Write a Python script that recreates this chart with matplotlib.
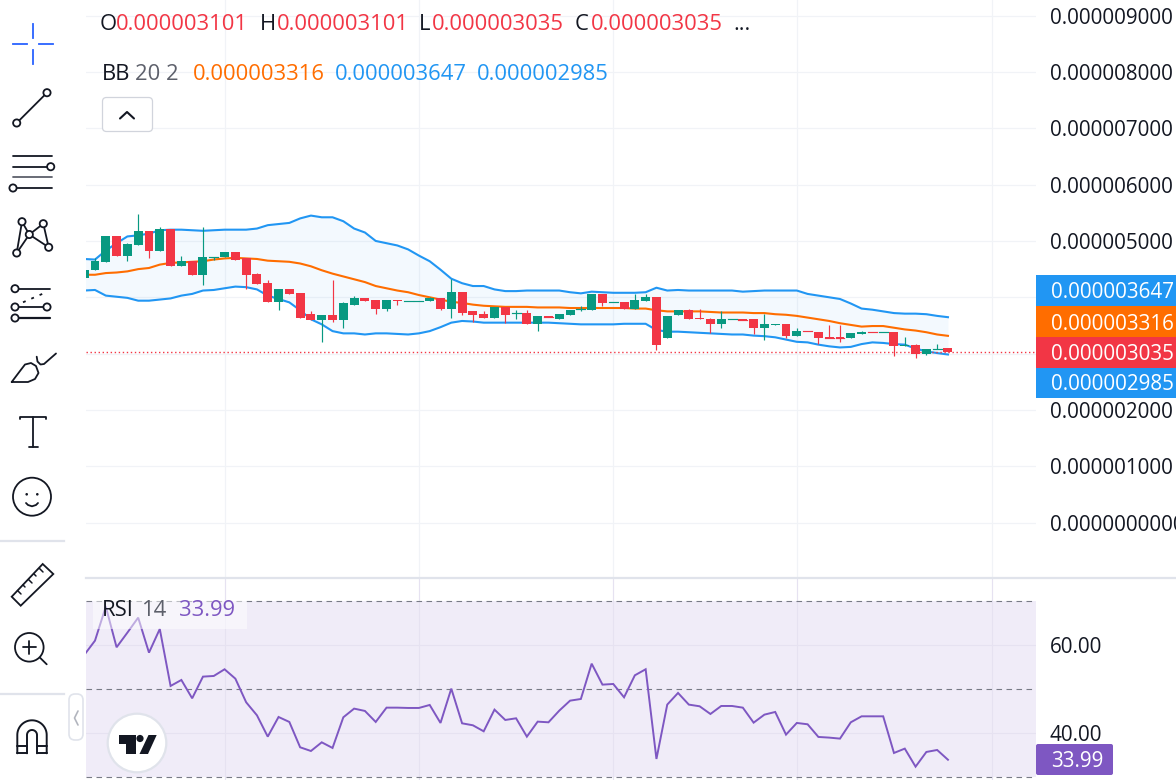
import numpy as np
import matplotlib
matplotlib.use("Agg")
import matplotlib.pyplot as plt
from matplotlib.patches import Circle, FancyBboxPatch, Polygon, Rectangle

plt.rcParams['font.family'] = ['Open Sans', 'DejaVu Sans']

# prices are in millionths (1.0 = 0.000001)
opens = [4.35, 4.48, 4.62, 5.08, 4.74, 4.92, 5.17, 4.83, 5.22, 4.56, 4.65, 4.40, 4.71, 4.71, 4.81, 4.69, 4.42,
         4.25, 3.91, 4.14, 4.07, 3.71, 3.59, 3.69, 3.59, 3.87, 3.98, 3.96, 3.80, 3.96, 3.94, 3.94, 3.93, 3.98,
         3.80, 4.09, 3.75, 3.71, 3.64, 3.82, 3.73, 3.73, 3.53, 3.66, 3.62, 3.69, 3.80, 3.78, 4.05, 3.91, 3.91,
         3.80, 3.94, 4.01, 3.27, 3.69, 3.78, 3.64, 3.62, 3.53, 3.61, 3.61, 3.61, 3.45, 3.50, 3.53, 3.32, 3.41,
         3.39, 3.29, 3.29, 3.27, 3.34, 3.39, 3.38, 3.39, 3.13, 3.16, 3.00, 3.09, 3.101]
highs = [4.49, 4.69, 5.08, 5.08, 4.96, 5.47, 5.17, 5.24, 5.22, 4.74, 4.65, 5.24, 4.72, 4.81, 4.81, 4.69, 4.44,
         4.30, 4.14, 4.14, 4.07, 3.75, 3.69, 4.30, 3.91, 4.03, 3.98, 3.96, 3.96, 3.96, 3.94, 3.94, 4.01, 3.98,
         4.33, 4.09, 3.75, 3.75, 3.82, 3.82, 3.78, 3.77, 3.66, 3.66, 3.71, 3.78, 3.84, 4.05, 4.05, 3.91, 3.91,
         4.05, 4.05, 4.01, 3.66, 3.78, 3.80, 3.80, 3.64, 3.75, 3.61, 3.61, 3.61, 3.71, 3.53, 3.53, 3.45, 3.41,
         3.39, 3.50, 3.50, 3.36, 3.41, 3.39, 3.38, 3.39, 3.29, 3.18, 3.09, 3.18, 3.101]
lows = [4.35, 4.48, 4.62, 4.74, 4.65, 4.92, 4.69, 4.83, 4.56, 4.55, 4.39, 4.21, 4.67, 4.71, 4.67, 4.14, 4.23,
        3.91, 3.78, 4.05, 3.64, 3.59, 3.20, 3.57, 3.45, 3.87, 3.94, 3.71, 3.75, 3.87, 3.94, 3.94, 3.93, 3.77,
        3.64, 3.69, 3.57, 3.64, 3.64, 3.55, 3.62, 3.53, 3.41, 3.65, 3.62, 3.68, 3.75, 3.78, 3.85, 3.91, 3.80,
        3.80, 3.94, 3.07, 3.27, 3.69, 3.62, 3.61, 3.36, 3.46, 3.61, 3.60, 3.34, 3.25, 3.50, 3.27, 3.32, 3.40,
        3.18, 3.28, 3.21, 3.27, 3.34, 3.38, 3.38, 2.95, 3.13, 2.93, 2.97, 3.09, 3.035]
closes = [4.49, 4.64, 5.08, 4.74, 4.94, 5.17, 4.83, 5.22, 4.56, 4.65, 4.40, 4.71, 4.72, 4.81, 4.67, 4.40, 4.23,
          3.91, 4.14, 4.05, 3.64, 3.59, 3.69, 3.59, 3.89, 3.98, 3.94, 3.80, 3.96, 3.94, 3.94, 3.94, 3.98, 3.80,
          4.09, 3.73, 3.69, 3.64, 3.82, 3.69, 3.73, 3.53, 3.66, 3.65, 3.71, 3.78, 3.80, 4.05, 3.89, 3.91, 3.80,
          3.96, 4.01, 3.16, 3.66, 3.78, 3.62, 3.61, 3.53, 3.61, 3.61, 3.60, 3.45, 3.52, 3.53, 3.32, 3.41, 3.40,
          3.27, 3.28, 3.28, 3.36, 3.39, 3.38, 3.38, 3.13, 3.16, 3.00, 3.09, 3.09, 3.035]

bb_upper = [4.68, 4.67, 4.83, 4.96, 5.08, 5.10, 5.13, 5.19, 5.20, 5.20, 5.19, 5.18, 5.19, 5.20, 5.20, 5.20, 5.22,
            5.28, 5.30, 5.32, 5.40, 5.45, 5.42, 5.42, 5.35, 5.22, 5.15, 5.00, 4.96, 4.92, 4.85, 4.74, 4.64, 4.49,
            4.33, 4.25, 4.20, 4.20, 4.14, 4.11, 4.11, 4.12, 4.12, 4.12, 4.12, 4.09, 4.07, 4.10, 4.09, 4.08, 4.08,
            4.08, 4.09, 4.17, 4.12, 4.13, 4.12, 4.12, 4.12, 4.12, 4.12, 4.10, 4.11, 4.12, 4.12, 4.12, 4.12, 4.06,
            4.03, 4.00, 3.97, 3.89, 3.80, 3.78, 3.75, 3.72, 3.71, 3.71, 3.70, 3.67, 3.647]
bb_basis = [4.40, 4.40, 4.43, 4.44, 4.46, 4.50, 4.52, 4.58, 4.61, 4.62, 4.63, 4.64, 4.67, 4.69, 4.70, 4.69, 4.68,
            4.65, 4.64, 4.63, 4.60, 4.55, 4.48, 4.42, 4.37, 4.32, 4.27, 4.20, 4.16, 4.12, 4.09, 4.04, 4.00, 3.96,
            3.92, 3.90, 3.87, 3.85, 3.84, 3.83, 3.83, 3.83, 3.82, 3.82, 3.82, 3.81, 3.81, 3.81, 3.81, 3.81, 3.81,
            3.80, 3.80, 3.77, 3.75, 3.75, 3.75, 3.75, 3.74, 3.73, 3.73, 3.73, 3.72, 3.72, 3.70, 3.69, 3.67, 3.64,
            3.61, 3.58, 3.54, 3.51, 3.48, 3.49, 3.49, 3.46, 3.43, 3.41, 3.38, 3.34, 3.316]
bb_lower = [4.12, 4.13, 4.03, 4.01, 3.99, 3.94, 3.94, 3.96, 3.98, 4.03, 4.06, 4.12, 4.13, 4.16, 4.19, 4.18, 4.14,
            4.03, 3.97, 3.91, 3.77, 3.61, 3.52, 3.40, 3.36, 3.36, 3.34, 3.36, 3.36, 3.35, 3.34, 3.36, 3.40, 3.47,
            3.55, 3.58, 3.57, 3.55, 3.55, 3.55, 3.55, 3.55, 3.55, 3.55, 3.54, 3.53, 3.52, 3.52, 3.52, 3.52, 3.53,
            3.53, 3.53, 3.42, 3.39, 3.39, 3.38, 3.37, 3.36, 3.35, 3.34, 3.34, 3.32, 3.31, 3.29, 3.25, 3.21, 3.20,
            3.16, 3.13, 3.11, 3.12, 3.17, 3.20, 3.19, 3.17, 3.16, 3.09, 3.04, 3.01, 2.985]

rsi = [57.80, 61.06, 68.79, 59.55, 62.88, 66.29, 58.33, 63.71, 50.76, 52.12, 47.95, 52.88, 53.03, 54.55, 52.42,
       47.05, 44.09, 39.24, 43.71, 42.58, 36.82, 35.98, 37.95, 36.67, 43.64, 45.61, 45.08, 42.58, 45.83, 45.83,
       45.76, 45.76, 46.44, 42.35, 50.15, 42.27, 41.82, 40.45, 45.38, 43.03, 43.41, 39.24, 42.65, 42.50, 45.15,
       47.42, 47.80, 55.83, 51.06, 51.21, 48.18, 53.18, 54.55, 34.17, 46.52, 49.17, 46.52, 46.14, 44.39, 46.21,
       46.21, 45.83, 42.42, 44.24, 44.85, 39.70, 42.35, 42.05, 39.17, 39.02, 38.79, 42.50, 43.86, 43.86, 43.86,
       35.53, 36.52, 32.42, 35.76, 36.21, 33.99]

price_ticks = [0, 1, 2, 3, 4, 5, 6, 7, 8, 9]
price_tick_labels = ['0.0000000000', '0.000001000', '0.000002000', '', '', '0.000005000',
                     '0.000006000', '0.000007000', '0.000008000', '0.000009000']
time_grid = [13, 31, 49, 66, 84.1]
rsi_ticks = [40, 60]
rsi_tick_labels = ['40.00', '60.00']

GREEN = '#089981'
RED = '#f23645'
BLUE = '#2196f3'
ORANGE = '#ff6d00'
PURPLE = '#7e57c2'
INK = '#131722'
GRID = '#f1f3f7'
FS = 15.8
TICK_FS = 14.9

W, H = 1176, 780
fig = plt.figure(figsize=(W / 100, H / 100), dpi=100, facecolor='white')


def pane(left, top, right, bottom):
    return fig.add_axes([left / W, 1 - bottom / H, (right - left) / W, (bottom - top) / H])


x = np.arange(len(closes))
bar_step = 10.797
xlim = ((86 - 84.2) / bar_step, (1036 - 84.2) / bar_step)

# candles + bollinger bands
ax = pane(86, 0, 1036, 578)
ax.set_xlim(*xlim)
ax.set_ylim((522.7 - 578) / 56.35, 522.7 / 56.35)
ax.set_yticks(price_ticks, price_tick_labels)
ax.set_xticks(time_grid, [''] * len(time_grid))
ax.yaxis.tick_right()
ax.tick_params(axis='y', length=0, pad=10, labelsize=TICK_FS, labelcolor=INK)
ax.tick_params(axis='x', length=0)
ax.grid(True, color=GRID, lw=0.85)
ax.set_axisbelow(True)
for s in ax.spines.values():
    s.set_visible(False)

ax.fill_between(x, bb_lower, bb_upper, color=BLUE, alpha=0.05, lw=0, zorder=1)
ax.plot(x, bb_upper, color=BLUE, lw=1.5, zorder=2)
ax.plot(x, bb_lower, color=BLUE, lw=1.5, zorder=2)
ax.plot(x, bb_basis, color=ORANGE, lw=1.5, zorder=2)
ax.plot(xlim, [closes[-1], closes[-1]], color=RED, lw=1.0, ls=(0, (1.0, 1.9)), zorder=2, dash_capstyle='butt')

o = np.array(opens)
c = np.array(closes)
colors = [GREEN if b >= a else RED for a, b in zip(o, c)]
ax.vlines(x, lows, highs, colors=colors, lw=0.85, zorder=3)
ax.bar(x, np.abs(c - o), bottom=np.minimum(o, c), width=0.83, color=colors, lw=0, zorder=4)
for i in x:
    if abs(c[i] - o[i]) < 0.02:
        ax.plot([i - 0.415, i + 0.415], [c[i], c[i]], color=colors[i], lw=0.85, zorder=4)

# rsi pane
ax2 = pane(86, 578, 1036, 780)
ax2.set_xlim(*xlim)
ax2.set_ylim(60 - (780 - 645.3) / 4.4, 60 + (645.3 - 578) / 4.4)
ax2.set_yticks(rsi_ticks, rsi_tick_labels)
ax2.set_xticks(time_grid, [''] * len(time_grid))
ax2.yaxis.tick_right()
ax2.tick_params(axis='y', length=0, pad=10, labelsize=TICK_FS, labelcolor=INK)
ax2.tick_params(axis='x', length=0)
ax2.grid(True, color='#e6e2f1', lw=0.85)
ax2.set_axisbelow(True)
for s in ax2.spines.values():
    s.set_visible(False)
ax2.axhspan(30, 70, color=PURPLE, alpha=0.11, lw=0, zorder=0.5)
for level in [30, 50, 70]:
    ax2.axhline(level, color='#787b86', lw=0.8, ls=(0, (5, 4)), zorder=1)
ax2.plot(x, rsi, color=PURPLE, lw=1.4, zorder=3, solid_joinstyle='miter')

# everything else is laid out in figure pixels
ov = fig.add_axes([0, 0, 1, 1], facecolor='none')
ov.set_xlim(0, W)
ov.set_ylim(H, 0)
ov.axis('off')


def label(px, py, s, color=INK, size=FS, ha='left', **kw):
    ov.text(px, py, s, color=color, fontsize=size, ha=ha, va='baseline', **kw)


def stroke(xs, ys, color=INK, lw=1.3, **kw):
    ov.plot(xs, ys, color=color, lw=lw, solid_capstyle='round', **kw)


def ring(cx, cy, r, lw=1.3):
    ov.add_patch(Circle((cx, cy), r, fc='white', ec=INK, lw=lw, zorder=3))


# legends
for px, s, col in [(100, 'O', INK), (116, '0.000003101', RED), (260, 'H', INK), (277, '0.000003101', RED),
                   (419, 'L', INK), (432, '0.000003035', RED), (575, 'C', INK), (591, '0.000003035', RED),
                   (733, '...', INK)]:
    label(px, 30, s, col)
for px, s, col in [(102, 'BB', INK), (135, '20 2', '#5d606b'), (193, '0.000003316', ORANGE),
                   (335, '0.000003647', BLUE), (477, '0.000002985', BLUE)]:
    label(px, 79.5, s, col)

ov.add_patch(FancyBboxPatch((102.5, 97.5), 50, 34, boxstyle='round,pad=0,rounding_size=4',
                            fc='white', ec='#d1d4dc', lw=0.9))
stroke([120, 127, 134], [118.5, 112, 118.5], lw=1.5)

ov.add_patch(Rectangle((93, 600), 154, 29, fc='white', alpha=0.5, lw=0, zorder=2))
for px, s, col in [(102, 'RSI', INK), (141, '14', '#5d606b'), (179, '33.99', PURPLE)]:
    ov.text(px, 616, s, color=col, fontsize=FS, ha='left', va='baseline', zorder=4)

# price tags on the right scale
tags = [(275, 306, BLUE, '0.000003647', 298.5), (306, 337, ORANGE, '0.000003316', 329.5),
        (337, 367.5, RED, '0.000003035', 360.5), (367.5, 398, BLUE, '0.000002985', 390.5)]
for top, bottom, col, s, base in tags:
    ov.add_patch(Rectangle((1036, top), 140, bottom - top, fc=col, lw=0))
    label(1051, base, s, 'white', size=TICK_FS)
ov.add_patch(FancyBboxPatch((1036, 744), 77, 31, boxstyle='round,pad=0,rounding_size=2', fc=PURPLE, lw=0))
label(1051, 767, '33.99', 'white', size=TICK_FS)

# separators
ov.plot([86, W], [578, 578], color='#e0e3eb', lw=1.6)
ov.plot([0, 64], [541, 541], color='#e0e3eb', lw=1.6)
ov.plot([0, 64], [694, 694], color='#e0e3eb', lw=1.6)
ov.add_patch(FancyBboxPatch((69, 694), 14, 46, boxstyle='round,pad=0,rounding_size=6',
                            fc='white', ec='#e0e3eb', lw=1.2))
stroke([78, 74.5, 78], [711, 718, 725], color='#b2b5be', lw=1.2)

# toolbar: crosshair
for xs, ys in [([12.5, 26.5], [43.5, 43.5]), ([39, 53], [43.5, 43.5]),
               ([33, 33], [23.5, 37.5]), ([33, 33], [50, 64])]:
    ov.plot(xs, ys, color='#2962ff', lw=1.3)

# trend line
stroke([47, 16.7], [92.7, 123])
ring(47, 92.7, 3.6)
ring(16.7, 123, 3.6)

# fib
stroke([12.5, 51.5], [156, 156])
stroke([12.5, 47], [166.7, 166.7])
ring(50.7, 166.7, 3.6)
stroke([12.5, 51.5], [177.3, 177.3], color='#5d606b')
stroke([13, 51.5], [188, 188])
ring(13, 188, 3.6)

# pattern
pts = {'a': (22, 221.7), 'b': (43.3, 223.7), 'c': (29.3, 234.5), 'd': (16.7, 253), 'e': (48.7, 247.3)}
for p, q in ['ac', 'ad', 'bc', 'be', 'cd', 'ce']:
    stroke([pts[p][0], pts[q][0]], [pts[p][1], pts[q][1]])
for cx, cy in pts.values():
    ring(cx, cy, 3.6)

# forecast
stroke([15, 50], [288.7, 288.7])
stroke([15, 47], [307, 307])
stroke([15, 50], [318, 318], lw=1.6)
ov.plot([23, 46.7], [302.3, 292], color=INK, lw=1.3, ls=(0, (1.6, 3.4)))
for cx, cy in [(15, 288.7), (15, 307), (47, 307), (15, 318)]:
    ring(cx, cy, 3.6)

# brush
stroke([11.7, 20, 25, 31, 36, 38.5, 35, 28, 11.7],
       [382, 371, 364.5, 363, 366, 373, 379, 382, 382])
stroke([56, 44, 40.5, 37.5, 36.7],
       [353.5, 364, 364.5, 361.5, 356.7])

# text tool
stroke([20, 20, 45.7, 45.7], [419, 416.7, 416.7, 419])
stroke([32.7, 32.7], [416.7, 447.3])
stroke([28.5, 37.5], [447.3, 447.3])

# smiley
ov.add_patch(Circle((32, 496.7), 19, fc='white', ec=INK, lw=1.3))
ov.add_patch(Circle((26.7, 494.3), 1.3, fc=INK, lw=0))
ov.add_patch(Circle((37.3, 494.3), 1.3, fc=INK, lw=0))
stroke([26, 28, 32, 36, 38], [503, 505, 506.3, 505, 503])

# ruler
ov.add_patch(Polygon([(11.7, 596.7), (42.7, 564), (53.3, 574), (20.7, 605.7)], closed=True,
                     fc='white', ec=INK, lw=1.3))
ticks = [((17.5, 590.5), (21, 594)), ((23, 585), (25, 587)), ((28.5, 579.5), (32, 583)),
         ((34, 574), (36, 576)), ((39.5, 568.5), (43, 572))]
for (x0, y0), (x1, y1) in ticks:
    stroke([x0, x1], [y0, y1], lw=1.1)

# zoom
ov.add_patch(Circle((29.3, 647.3), 14.3, fc='white', ec=INK, lw=1.3))
stroke([23, 35.7], [647.3, 647.3])
stroke([29.3, 29.3], [641, 653.7])
stroke([40, 46.7], [657.7, 664.3])

# magnet
t = np.linspace(np.pi, 2 * np.pi, 40)
outer_x = 32 + 14.7 * np.cos(t)
outer_y = 735 + 14.7 * np.sin(t)
inner_x = 32 + 5 * np.cos(t)
inner_y = 735 + 5 * np.sin(t)
stroke(np.r_[17.3, outer_x, 46.7], np.r_[753.3, outer_y, 753.3], lw=1.4)
stroke(np.r_[27, inner_x, 37], np.r_[753.3, inner_y, 753.3], lw=1.4)
stroke([17.3, 27], [753.3, 753.3], lw=1.4)
stroke([37, 46.7], [753.3, 753.3], lw=1.4)
stroke([17.3, 27], [746, 746], lw=1.4)
stroke([37, 46.7], [746, 746], lw=1.4)

# tradingview badge
ov.add_patch(Circle((137, 743), 29.3, fc='white', ec='#e0e3eb', lw=1.6, zorder=5))
ov.add_patch(Polygon([(118.5, 735), (135.7, 735), (135.7, 754), (126, 754), (126, 743.5), (118.5, 743.5)],
                     closed=True, fc=INK, lw=0, zorder=6))
ov.add_patch(Circle((140, 738.5), 3.6, fc=INK, lw=0, zorder=6))
ov.add_patch(Polygon([(148.5, 735), (156.7, 735), (148, 754), (139.5, 754)], closed=True, fc=INK, lw=0, zorder=6))

fig.savefig('out.png', dpi=100)
